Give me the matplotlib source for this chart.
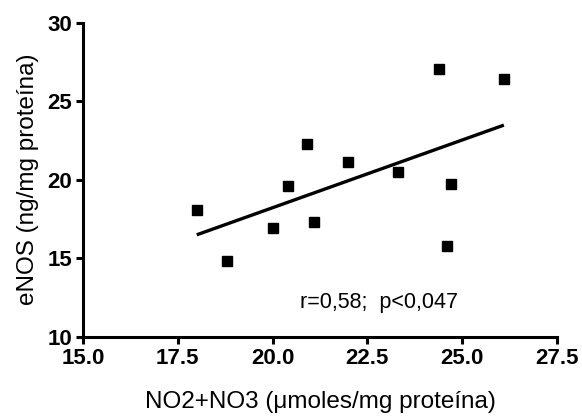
import numpy as np
import matplotlib.pyplot as plt

plt.rcParams['font.family'] = ['Liberation Sans', 'DejaVu Sans']

# NO2+NO3 (umoles/mg proteina) vs eNOS (ng/mg proteina)
no_x = [18.0, 18.8, 20.0, 20.4, 20.9, 21.1, 22.0, 23.3, 24.4, 24.6, 24.7, 26.1]
enos_y = [18.1, 14.8, 16.9, 19.6, 22.3, 17.3, 21.1, 20.5, 27.05, 15.8, 19.7, 26.4]

x_ticks = [15.0, 17.5, 20.0, 22.5, 25.0, 27.5]
y_ticks = [10, 15, 20, 25, 30]

fig = plt.figure(figsize=(5.82, 4.16), dpi=100)
ax = fig.add_axes([0.1426, 0.1906, 0.8144, 0.7548])

# recta de regresion
b, a = np.polyfit(no_x, enos_y, 1)
xl = np.array([min(no_x), max(no_x)])
ax.plot(xl, a + b * xl, color='black', lw=2.4, solid_capstyle='butt')

ax.plot(no_x, enos_y, 's', color='black', ms=6.5)

ax.set_xlim(15, 27.5)
ax.set_ylim(10, 30)
ax.set_xticks(x_ticks)
ax.set_xticklabels(['%.1f' % v for v in x_ticks])
ax.set_yticks(y_ticks)

for s in ['top', 'right']:
    ax.spines[s].set_visible(False)
for s in ['left', 'bottom']:
    ax.spines[s].set_linewidth(2.2)
ax.tick_params(width=2.2, length=5, labelsize=16, pad=3)
for lab in ax.get_xticklabels() + ax.get_yticklabels():
    lab.set_fontweight('bold')

ax.set_xlabel('NO2+NO3 (\u03bcmoles/mg proteína)', fontsize=17.5, labelpad=16)
ax.set_ylabel('eNOS (ng/mg proteína)', fontsize=17.5, labelpad=6)

ax.text(22.8, 12.2, 'r=0,58;  p<0,047', fontsize=15.5, ha='center', va='center')

plt.savefig('out.png', dpi=100)
